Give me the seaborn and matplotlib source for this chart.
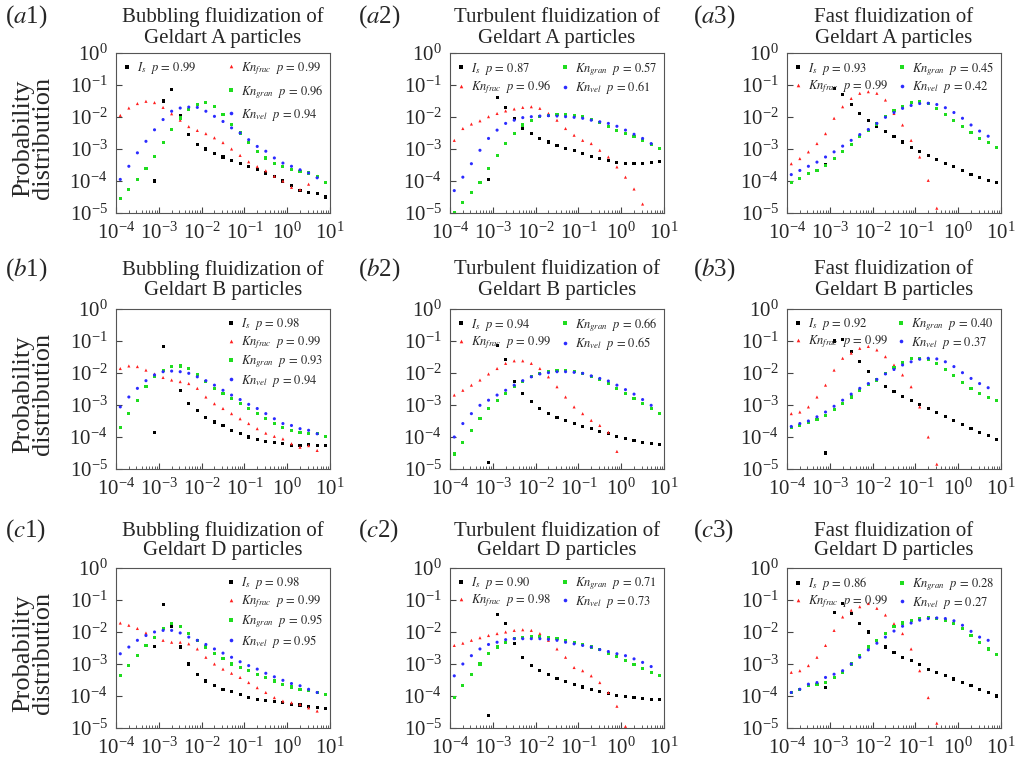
import numpy as np
import pandas as pd
import matplotlib
matplotlib.use("Agg")
import matplotlib.pyplot as plt
import seaborn as sns
from matplotlib.lines import Line2D
from matplotlib.ticker import LogLocator, NullLocator, NullFormatter

# ---------------- data (log10 values) ----------------
# shared x positions, log10(x)
log_x = [-3.9, -3.7, -3.5, -3.3, -3.1, -2.9, -2.7, -2.5, -2.3, -2.1, -1.9, -1.7, -1.5,
         -1.3, -1.1, -0.9, -0.7, -0.5, -0.3, -0.1, 0.1, 0.3, 0.5, 0.7, 0.9]
N = None

# row a : Geldart A
a1_is = [N, N, N, N, -4.0, -1.5, -1.15, -1.95, -2.55, -2.85, -3.0, -3.15, -3.25, -3.35, -3.45,
         -3.55, -3.65, -3.75, -3.85, -4.0, -4.15, -4.3, -4.35, -4.4, -4.5]
a1_frac = [-1.95, -1.72, -1.58, -1.51, -1.55, -1.7, -1.9, -2.1, -2.3, -2.42, -2.52, -2.65, -2.8,
           -3.0, -3.2, -3.4, -3.55, -3.68, -3.85, -4.0, -4.2, -4.27, -4.1, -3.85, N]
a1_gran = [-4.55, -4.27, -3.96, -3.6, -3.23, -2.81, -2.4, -2.03, -1.77, -1.61, -1.54, -1.67, -1.93,
           -2.24, -2.5, -2.81, -3.07, -3.28, -3.44, -3.54, -3.65, -3.7, -3.75, -3.85, -4.06]
a1_vel = [-3.95, -3.54, -3.12, -2.76, -2.4, -2.08, -1.82, -1.72, -1.69, -1.7, -1.82, -1.98, -2.14,
          -2.34, -2.5, -2.71, -2.92, -3.07, -3.28, -3.44, -3.54, -3.65, -3.75, -3.9, N]
a1_p = ["0.99", "0.99", "0.96", "0.94"]

a2_is = [N, N, N, N, -3.95, -1.4, -1.7, -2.04, -2.36, -2.52, -2.67, -2.78, -2.88, -2.99, -3.06,
         -3.14, -3.23, -3.3, -3.35, -3.41, -3.46, -3.46, -3.44, -3.43, -3.38]
a2_frac = [-2.73, -2.36, -2.22, -2.12, -1.99, -1.89, -1.81, -1.75, -1.7, -1.68, -1.73, -1.89, -2.1,
           -2.36, -2.57, -2.73, -2.83, -3.04, -3.25, -3.56, -3.88, -4.25, -4.72, N, N]
a2_gran = [-4.98, -4.66, -4.35, -4.04, -3.62, -3.2, -2.83, -2.52, -2.25, -2.1, -1.99, -1.94, -1.91,
           -1.91, -1.94, -1.99, -2.08, -2.18, -2.29, -2.41, -2.52, -2.62, -2.73, -2.86, -2.99]
a2_vel = [-4.3, -3.88, -3.46, -3.04, -2.67, -2.41, -2.2, -2.1, -2.02, -1.99, -1.97, -1.96, -1.97,
          -1.99, -2.01, -2.04, -2.1, -2.15, -2.2, -2.29, -2.41, -2.54, -2.67, -2.83, N]
a2_p = ["0.87", "0.96", "0.57", "0.61"]

a3_is = [N, N, N, N, -3.5, -1.1, -1.31, -1.62, -1.89, -2.1, -2.29, -2.46, -2.62, -2.78, -2.94,
         -3.09, -3.2, -3.33, -3.46, -3.56, -3.67, -3.79, -3.88, -3.98, -4.04]
a3_frac = [-3.46, -3.3, -3.09, -2.83, -2.52, -2.04, -1.68, -1.42, -1.26, -1.21, -1.26, -1.47, -1.89,
           -2.25, -2.73, -3.25, -3.98, -4.85, N, N, N, N, N, N, N]
a3_gran = [-4.04, -3.93, -3.77, -3.67, -3.51, -3.3, -3.09, -2.85, -2.62, -2.43, -2.22, -1.99, -1.81,
           -1.66, -1.54, -1.52, -1.59, -1.73, -1.91, -2.12, -2.31, -2.49, -2.67, -2.81, -2.94]
a3_vel = [-3.8, -3.67, -3.54, -3.41, -3.25, -3.09, -2.91, -2.73, -2.55, -2.39, -2.2, -2.01, -1.86,
          -1.73, -1.64, -1.58, -1.57, -1.61, -1.71, -1.86, -2.04, -2.25, -2.44, -2.6, N]
a3_p = ["0.93", "0.99", "0.45", "0.42"]

# row b : Geldart B
b1_is = [N, N, N, N, -3.85, -1.17, -1.8, -2.54, -2.96, -3.17, -3.38, -3.53, -3.64, -3.79, -3.9,
         -4.0, -4.09, -4.13, -4.16, -4.21, -4.27, -4.27, -4.23, -4.27, -4.27]
b1_frac = [-1.86, -1.78, -1.8, -1.91, -2.03, -2.14, -2.22, -2.27, -2.33, -2.48, -2.75, -2.96, -3.11,
           -3.27, -3.43, -3.58, -3.74, -3.88, -3.98, -4.06, -4.21, -4.32, -4.27, -4.42, N]
b1_gran = [-3.69, -3.27, -2.85, -2.43, -2.12, -1.91, -1.8, -1.78, -1.86, -2.06, -2.27, -2.48, -2.64,
           -2.8, -2.96, -3.11, -3.27, -3.43, -3.58, -3.69, -3.79, -3.85, -3.88, -3.9, -3.98]
b1_vel = [-3.06, -2.75, -2.48, -2.24, -2.06, -1.96, -1.94, -1.96, -2.01, -2.12, -2.24, -2.38, -2.54,
          -2.69, -2.83, -2.98, -3.11, -3.27, -3.43, -3.58, -3.64, -3.74, -3.79, -3.9, N]
b1_p = ["0.98", "0.99", "0.93", "0.94"]

b2_is = [N, N, N, N, -4.8, -1.15, -1.59, -2.27, -2.64, -2.9, -3.11, -3.27, -3.38, -3.48, -3.58,
         -3.67, -3.74, -3.82, -3.9, -3.98, -4.06, -4.11, -4.16, -4.19, -4.23]
b2_frac = [-2.69, -2.54, -2.38, -2.22, -2.03, -1.86, -1.7, -1.62, -1.62, -1.7, -1.86, -2.12, -2.43,
           -2.75, -3.06, -3.27, -3.48, -3.64, -3.85, -4.45, N, N, N, N, N]
b2_gran = [-4.53, -4.16, -3.79, -3.43, -3.11, -2.85, -2.64, -2.43, -2.27, -2.12, -2.01, -1.96, -1.93,
           -1.93, -1.96, -2.01, -2.1, -2.2, -2.33, -2.48, -2.64, -2.8, -2.96, -3.11, -3.27]
b2_vel = [-4.0, -3.58, -3.27, -3.01, -2.85, -2.69, -2.54, -2.38, -2.24, -2.12, -2.03, -1.99, -1.96,
          -1.96, -1.98, -2.01, -2.09, -2.17, -2.25, -2.38, -2.52, -2.66, -2.83, -3.01, N]
b2_p = ["0.94", "0.99", "0.66", "0.65"]

b3_is = [N, N, N, N, -4.5, -1.0, -0.95, -1.33, -1.65, -1.96, -2.24, -2.43, -2.59, -2.73, -2.85,
         -2.98, -3.11, -3.24, -3.35, -3.48, -3.61, -3.74, -3.85, -3.95, -4.09]
b3_frac = [-3.27, -3.22, -3.06, -2.75, -2.38, -1.91, -1.54, -1.38, -1.23, -1.17, -1.28, -1.49, -1.75,
           -2.06, -2.43, -3.06, -4.0, -4.85, N, N, N, N, N, N, N]
b3_gran = [-3.71, -3.64, -3.56, -3.46, -3.32, -3.14, -2.96, -2.75, -2.54, -2.36, -2.22, -2.01, -1.82,
           -1.67, -1.56, -1.54, -1.59, -1.7, -1.88, -2.09, -2.3, -2.48, -2.64, -2.77, -2.85]
b3_vel = [-3.67, -3.58, -3.5, -3.37, -3.22, -3.04, -2.85, -2.66, -2.48, -2.33, -2.2, -2.03, -1.89,
          -1.75, -1.65, -1.57, -1.54, -1.56, -1.65, -1.8, -1.99, -2.17, -2.33, -2.46, N]
b3_p = ["0.92", "0.99", "0.40", "0.37"]

# row c : Geldart D
c1_is = [N, N, N, N, -2.45, -1.15, -1.84, -2.47, -3.0, -3.32, -3.53, -3.68, -3.79, -3.87, -3.95,
         -4.05, -4.11, -4.14, -4.16, -4.21, -4.26, -4.28, -4.32, -4.35, -4.39]
c1_frac = [-1.72, -1.79, -1.89, -2.03, -2.16, -2.26, -2.32, -2.32, -2.37, -2.53, -2.79, -3.0, -3.16,
           -3.29, -3.42, -3.58, -3.74, -3.89, -4.05, -4.16, -4.21, -4.26, -4.37, -4.47, N]
c1_gran = [-3.37, -3.05, -2.74, -2.42, -2.16, -1.89, -1.74, -1.84, -2.05, -2.26, -2.47, -2.68, -2.84,
           -3.0, -3.11, -3.21, -3.32, -3.42, -3.53, -3.63, -3.72, -3.79, -3.84, -3.89, -3.95]
c1_vel = [-2.68, -2.47, -2.26, -2.11, -2.0, -1.95, -1.95, -2.03, -2.16, -2.26, -2.39, -2.53, -2.66,
          -2.79, -2.93, -3.05, -3.16, -3.29, -3.4, -3.51, -3.61, -3.68, -3.79, -3.89, N]
c1_p = ["0.98", "0.99", "0.95", "0.95"]

c2_is = [N, N, N, N, -4.6, -1.45, -1.74, -2.37, -2.79, -3.05, -3.21, -3.34, -3.45, -3.55, -3.63,
         -3.72, -3.79, -3.87, -3.93, -3.98, -4.02, -4.05, -4.08, -4.11, -4.12]
c2_frac = [-2.42, -2.35, -2.26, -2.18, -2.11, -2.05, -2.0, -1.95, -1.93, -1.95, -2.05, -2.26, -2.53,
           -2.79, -3.11, -3.21, -3.37, -3.58, -3.89, -4.32, -4.95, N, N, N, N]
c2_gran = [-4.05, -3.68, -3.32, -3.0, -2.68, -2.47, -2.32, -2.21, -2.16, -2.14, -2.14, -2.16, -2.21,
           -2.26, -2.32, -2.39, -2.47, -2.56, -2.66, -2.77, -2.89, -3.02, -3.13, -3.26, -3.37]
c2_vel = [-3.37, -3.0, -2.74, -2.53, -2.39, -2.32, -2.24, -2.21, -2.21, -2.21, -2.21, -2.23, -2.26,
          -2.32, -2.37, -2.42, -2.47, -2.55, -2.61, -2.68, -2.74, -2.84, -2.95, -3.08, N]
c2_p = ["0.90", "0.98", "0.71", "0.73"]

c3_is = [N, N, N, N, -3.74, -1.4, -1.11, -1.42, -1.74, -2.0, -2.26, -2.47, -2.63, -2.79, -2.89,
         -3.02, -3.16, -3.26, -3.37, -3.47, -3.58, -3.68, -3.79, -3.89, -4.0]
c3_frac = [-3.26, -3.21, -3.05, -2.79, -2.42, -1.95, -1.53, -1.32, -1.21, -1.11, -1.26, -1.47, -1.74,
           -2.05, -2.53, -3.21, -4.05, -4.85, N, N, N, N, N, N, N]
c3_gran = [-3.89, -3.79, -3.68, -3.63, -3.58, -3.42, -3.26, -3.0, -2.74, -2.47, -2.26, -2.05, -1.84,
           -1.72, -1.63, -1.58, -1.55, -1.58, -1.63, -1.74, -1.89, -2.1, -2.32, -2.53, -2.7]
c3_vel = [-3.89, -3.79, -3.63, -3.58, -3.42, -3.32, -3.21, -3.0, -2.79, -2.56, -2.35, -2.16, -1.97,
          -1.82, -1.72, -1.63, -1.58, -1.56, -1.58, -1.65, -1.79, -1.98, -2.16, -2.26, N]
c3_p = ["0.86", "0.99", "0.28", "0.27"]

regimes = ["Bubbling", "Turbulent", "Fast"]
geldart = ["A", "B", "D"]
row_ids = ["a", "b", "c"]

# ---------------- style ----------------
sns.set_style("ticks")
plt.rcParams["font.family"] = ["Liberation Serif", "DejaVu Serif"]
plt.rcParams["mathtext.fontset"] = "stix"

series = ["is", "frac", "gran", "vel"]
palette = {"is": "black", "frac": "#ff1f1f", "gran": "#1fdc1f", "vel": "#2b2bff"}
markers = {"is": "s", "frac": "^", "gran": "s", "vel": "o"}
names = [r"I_s", r"Kn_{frac}", r"Kn_{gran}", r"Kn_{vel}"]

all_data = {
    "a1": (a1_is, a1_frac, a1_gran, a1_vel, a1_p),
    "a2": (a2_is, a2_frac, a2_gran, a2_vel, a2_p),
    "a3": (a3_is, a3_frac, a3_gran, a3_vel, a3_p),
    "b1": (b1_is, b1_frac, b1_gran, b1_vel, b1_p),
    "b2": (b2_is, b2_frac, b2_gran, b2_vel, b2_p),
    "b3": (b3_is, b3_frac, b3_gran, b3_vel, b3_p),
    "c1": (c1_is, c1_frac, c1_gran, c1_vel, c1_p),
    "c2": (c2_is, c2_frac, c2_gran, c2_vel, c2_p),
    "c3": (c3_is, c3_frac, c3_gran, c3_vel, c3_p),
}

W, H = 1018, 760
fig = plt.figure(figsize=(W / 100, H / 100), dpi=100)

col_left = [116, 450, 787]
row_top = [53, 309, 568]
ax_w, ax_h = 214, 160
title_y = [(17, 38), (270, 291), (531, 551)]
label_x = [5, 358, 693]


def handle(s):
    return Line2D([], [], linestyle="", marker=markers[s], color=palette[s],
                  markersize=2.6, markeredgewidth=0)


for r in range(3):
    for c in range(3):
        key = f"{row_ids[r]}{c + 1}"
        ys_is, ys_frac, ys_gran, ys_vel, pvals = all_data[key]
        rows = []
        for s, ys in zip(series, [ys_is, ys_frac, ys_gran, ys_vel]):
            for lx, ly in zip(log_x, ys):
                if ly is not None:
                    rows.append({"x": 10 ** lx, "y": 10 ** ly, "series": s})
        df = pd.DataFrame(rows)

        left = col_left[c] / W
        bottom = 1 - (row_top[r] + ax_h) / H
        ax = fig.add_axes([left, bottom, ax_w / W, ax_h / H])
        sns.scatterplot(data=df, x="x", y="y", hue="series", style="series",
                        palette=palette, markers=markers, s=5, linewidth=0,
                        legend=False, ax=ax)
        ax.set_xscale("log")
        ax.set_yscale("log")
        ax.set_xlim(1e-4, 1e1)
        ax.set_ylim(1e-5, 1e0)
        ax.set_xlabel("")
        ax.set_ylabel("")
        ax.xaxis.set_major_locator(LogLocator(base=10, numticks=10))
        ax.xaxis.set_minor_locator(LogLocator(base=10, subs=np.arange(2, 10), numticks=20))
        ax.xaxis.set_minor_formatter(NullFormatter())
        ax.yaxis.set_major_locator(LogLocator(base=10, numticks=10))
        ax.yaxis.set_minor_locator(NullLocator())
        ax.tick_params(which="both", direction="in", top=False, right=False,
                       color="#444444", labelsize=15)
        ax.tick_params(which="major", length=4, width=0.8)
        ax.tick_params(which="minor", length=2, width=0.6)
        ax.tick_params(axis="x", pad=7)
        ax.tick_params(axis="y", pad=6)
        for sp in ax.spines.values():
            sp.set_color("#555555")
            sp.set_linewidth(0.8)

        labels = [rf"${n}\ \ p\,=\,{p}$" for n, p in zip(names, pvals)]
        hands = [handle(s) for s in series]
        lkw = dict(frameon=False, fontsize=9, handlelength=0.6, handletextpad=0.5,
                   borderaxespad=0.15)
        if key == "a1":
            lg = ax.legend(hands[:1], labels[:1], loc="upper left", labelspacing=0.5, **lkw)
            ax.add_artist(lg)
            ax.legend(hands[1:], labels[1:], loc="upper right", labelspacing=0.5, **lkw)
        elif c == 0:
            ax.legend(hands, labels, loc="upper right", labelspacing=0.2, **lkw)
        else:
            ax.legend(hands, labels, loc="upper left", ncol=2, columnspacing=1.6,
                      mode="expand", bbox_to_anchor=(0, 0, 1, 1), labelspacing=0.15, **lkw)

        xc = (col_left[c] + ax_w / 2) / W
        fig.text(xc, 1 - title_y[r][0] / H, f"{regimes[c]} fluidization of",
                 ha="center", va="center", fontsize=15)
        fig.text(xc, 1 - title_y[r][1] / H, f"Geldart {geldart[r]} particles",
                 ha="center", va="center", fontsize=15)
        fig.text(label_x[c] / W, 1 - title_y[r][0] / H,
                 rf"($\mathit{{{row_ids[r]}}}${c + 1})",
                 ha="left", va="center", fontsize=18)

    fig.text(33 / W, 1 - (row_top[r] + ax_h / 2 + 5) / H, "Probability\ndistribution",
             rotation=90, ha="center", va="center", fontsize=19, linespacing=0.9)

fig.savefig("out.png", dpi=100)
